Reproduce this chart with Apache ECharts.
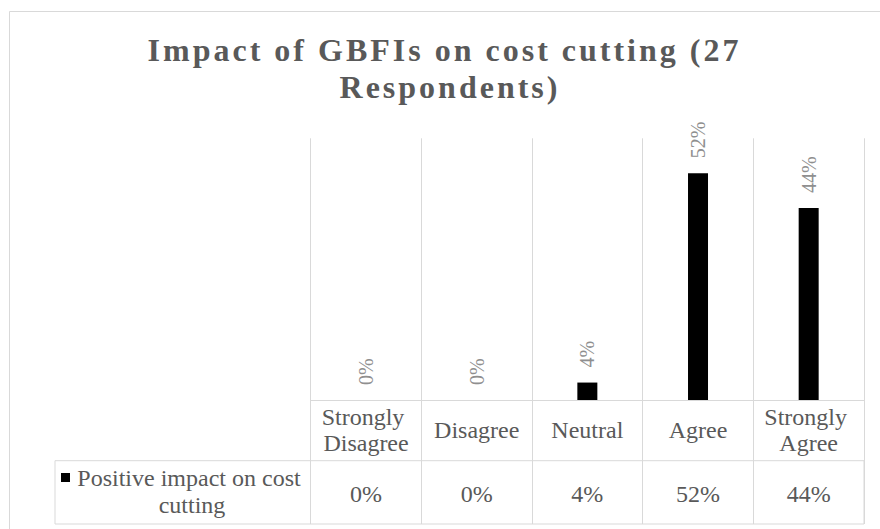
<!DOCTYPE html>
<html>
<head>
<meta charset="utf-8">
<script src="https://cdn.jsdelivr.net/npm/echarts@6/dist/echarts.min.js"></script>
<style>
  html, body { margin: 0; padding: 0; background: #fff; }
  #chart { width: 880px; height: 529px; }
  /* spaced-out heading letters */
  #chart text[style*="bold"] { letter-spacing: 3px; }
</style>
</head>
<body>
<div id="chart"></div>
<script>
// Survey answers: share of the 27 respondents per answer, in percent
const chartTitle = 'Impact of GBFIs on cost cutting (27 Respondents)';
const categories = ['Strongly Disagree', 'Disagree', 'Neutral', 'Agree', 'Strongly Agree'];
const seriesName = 'Positive impact on cost cutting';
const shares = [0, 0, 4, 52, 44];
const valueAxisMax = 60;

// Row of the data table under the axis
const tableValues = shares.map(v => v + '%');

const serif = "'Liberation Serif', 'Times New Roman', serif";
const ink = '#595959';
const rule = '#d9d9d9';

const chart = echarts.init(document.getElementById('chart'), null, { renderer: 'svg' });

chart.setOption({
  animation: false,
  backgroundColor: '#fff',
  title: {
    text: chartTitle,
    left: 450,
    top: 31,
    textAlign: 'center',
    padding: 0,
    textStyle: {
      fontFamily: serif, fontSize: 32, fontWeight: 'bold', color: ink,
      lineHeight: 37, width: 600, overflow: 'break'
    }
  },
  legend: {
    data: [seriesName],
    left: 61,
    top: 437,
    padding: 0,
    itemWidth: 9,
    itemHeight: 9,
    icon: 'rect',
    selectedMode: false,
    formatter: '{t|{name}}',
    textStyle: {
      fontFamily: serif, fontSize: 24, color: ink, lineHeight: 27,
      width: 234, overflow: 'break', padding: [27, 0, 0, 0],
      rich: { t: { align: 'center', fontFamily: serif, fontSize: 24, color: ink, lineHeight: 27 } }
    }
  },
  graphic: [{
    type: 'rect', silent: true, z: -1,
    shape: { x: 9.5, y: 11.5, width: 900, height: 600 },
    style: { fill: 'none', stroke: rule, lineWidth: 1 }
  }],
  grid: [
    { left: 310.7, right: 16, top: 138.3, bottom: 129, outerBoundsMode: 'none' },
    { left: 55, right: 16, top: 460.7, bottom: 5, show: true, borderColor: rule, borderWidth: 1,
      backgroundColor: 'transparent', outerBoundsMode: 'none' }
  ],
  xAxis: [
    {
      type: 'category', gridIndex: 0, data: categories, boundaryGap: true,
      axisLine: { show: true, lineStyle: { color: rule, width: 1 } },
      axisTick: { show: true, interval: 0, length: 124, lineStyle: { color: rule } },
      splitLine: { show: true, interval: 0, lineStyle: { color: rule } },
      axisLabel: {
        interval: 0, margin: 30, verticalAlign: 'middle', width: 105, overflow: 'break',
        fontFamily: serif, fontSize: 24, lineHeight: 26, color: ink
      }
    },
    {
      type: 'category', gridIndex: 0, position: 'bottom', offset: 60.5, data: tableValues,
      axisLine: { show: false }, axisTick: { show: false }, splitLine: { show: false },
      axisLabel: {
        interval: 0, margin: 33, verticalAlign: 'middle',
        fontFamily: serif, fontSize: 24, color: ink
      }
    },
    { type: 'category', gridIndex: 1, data: [''], show: false }
  ],
  yAxis: [
    { type: 'value', gridIndex: 0, min: 0, max: valueAxisMax, show: false },
    { type: 'value', gridIndex: 1, show: false }
  ],
  series: [{
    name: seriesName,
    type: 'bar',
    xAxisIndex: 0,
    yAxisIndex: 0,
    data: shares,
    barWidth: 20,
    itemStyle: { color: '#000' },
    label: {
      show: true, position: 'top', distance: 15, rotate: 90,
      align: 'left', verticalAlign: 'middle', formatter: '{c}%',
      fontFamily: serif, fontSize: 20, color: '#8f8f8f'
    }
  }]
});
</script>
</body>
</html>
